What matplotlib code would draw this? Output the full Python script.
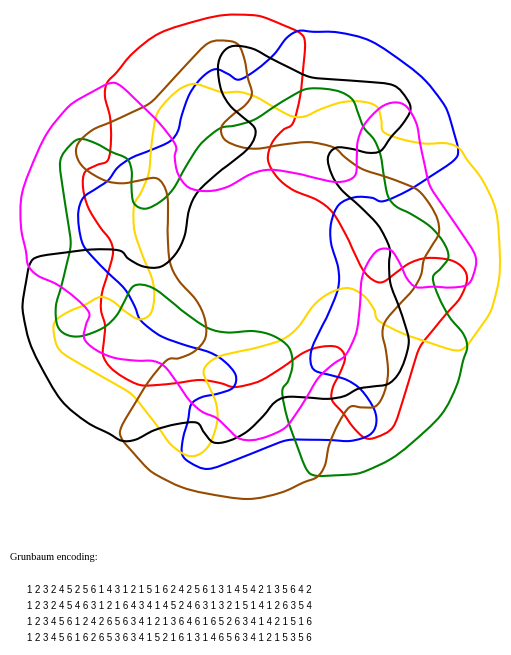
"""Symmetric 7-Venn diagram with its Grunbaum encoding underneath."""

import matplotlib

matplotlib.use("Agg")
import matplotlib.pyplot as plt
from matplotlib import transforms
from matplotlib.patches import PathPatch
from matplotlib.path import Path

# one curve (the red one), traced in pixel coords; the others are rotations
RED_X = [250, 225, 200, 160, 133, 117, 107, 105, 110, 111, 108, 97, 85, 83, 88,
         100, 110, 113, 108, 102, 101, 105, 104, 103, 110, 123, 140, 157, 177,
         200, 220, 233, 247, 262, 283, 303, 320, 337, 345, 340, 333, 332, 343,
         353, 365, 377, 393, 403, 413, 420, 433, 447, 460, 467, 463, 450, 427,
         410, 397, 383, 373, 363, 353, 347, 333, 317, 293, 277, 268, 272, 283,
         293, 300, 303, 305, 300, 283, 263]
RED_Y = [15, 15, 20, 33, 53, 72, 83, 97, 117, 140, 160, 165, 172, 187, 207,
         227, 240, 253, 273, 293, 310, 325, 340, 355, 367, 377, 385, 385, 383,
         380, 383, 387, 385, 380, 367, 353, 347, 347, 357, 373, 387, 400, 413,
         427, 438, 437, 427, 400, 367, 347, 330, 313, 298, 280, 268, 260, 258,
         263, 272, 282, 280, 270, 250, 237, 213, 200, 190, 177, 160, 143, 130,
         123, 97, 70, 43, 33, 25, 17]

CENTER = (257, 256)
CURVE_COLORS = ["#ff0000", "#0000ff", "#ffd700", "#008000",
                "#964b00", "#000000", "#ff00ff"]
CURVE_STEPS = [0, 1, 2, 3, 4, 5, 6]

TITLE = "Grunbaum encoding:"
ENCODING_ROWS = [
    "1 2 3 2 4 5 2 5 6 1 4 3 1 2 1 5 1 6 2 4 2 5 6 1 3 1 4 5 4 2 1 3 5 6 4 2",
    "1 2 3 2 4 5 4 6 3 1 2 1 6 4 3 4 1 4 5 2 4 6 3 1 3 2 1 5 1 4 1 2 6 3 5 4",
    "1 2 3 4 5 6 1 2 4 2 6 5 6 3 4 1 2 1 3 6 4 6 1 6 5 2 6 3 4 1 4 2 1 5 1 6",
    "1 2 3 4 5 6 1 6 2 6 5 3 6 3 4 1 5 2 1 6 1 3 1 4 6 5 6 3 4 1 2 1 5 3 5 6",
]


def closed_path(xs, ys):
    """Closed Catmull-Rom curve through the traced points, as cubic Beziers."""
    n = len(xs)
    pts = list(zip(xs, ys))
    verts = [pts[0]]
    codes = [Path.MOVETO]
    for i in range(n):
        p0, p1 = pts[i - 1], pts[i]
        p2, p3 = pts[(i + 1) % n], pts[(i + 2) % n]
        c1 = (p1[0] + (p2[0] - p0[0]) / 6, p1[1] + (p2[1] - p0[1]) / 6)
        c2 = (p2[0] - (p3[0] - p1[0]) / 6, p2[1] - (p3[1] - p1[1]) / 6)
        verts += [c1, c2, p2]
        codes += [Path.CURVE4] * 3
    return Path(verts, codes)


def main():
    fig = plt.figure(figsize=(5.11, 6.55), dpi=100)
    ax = fig.add_axes([0, 0, 1, 1])
    ax.set_xlim(0, 511)
    ax.set_ylim(655, 0)
    ax.axis("off")

    base = closed_path(RED_X, RED_Y)
    for color, step in zip(CURVE_COLORS, CURVE_STEPS):
        rot = transforms.Affine2D().rotate_deg_around(*CENTER, step * 360 / 7)
        ax.add_patch(PathPatch(base, facecolor="none", edgecolor=color,
                               lw=1.5, transform=rot + ax.transData))

    ax.text(10, 558, TITLE, family="Liberation Serif", fontsize=7.5,
            va="center", ha="left")
    for i, row in enumerate(ENCODING_ROWS):
        ax.text(27, 590 + 16 * i, row, family="Liberation Sans", fontsize=6.9,
                fontweight="medium", va="center", ha="left")

    fig.savefig("out.png", dpi=100)


if __name__ == "__main__":
    main()
